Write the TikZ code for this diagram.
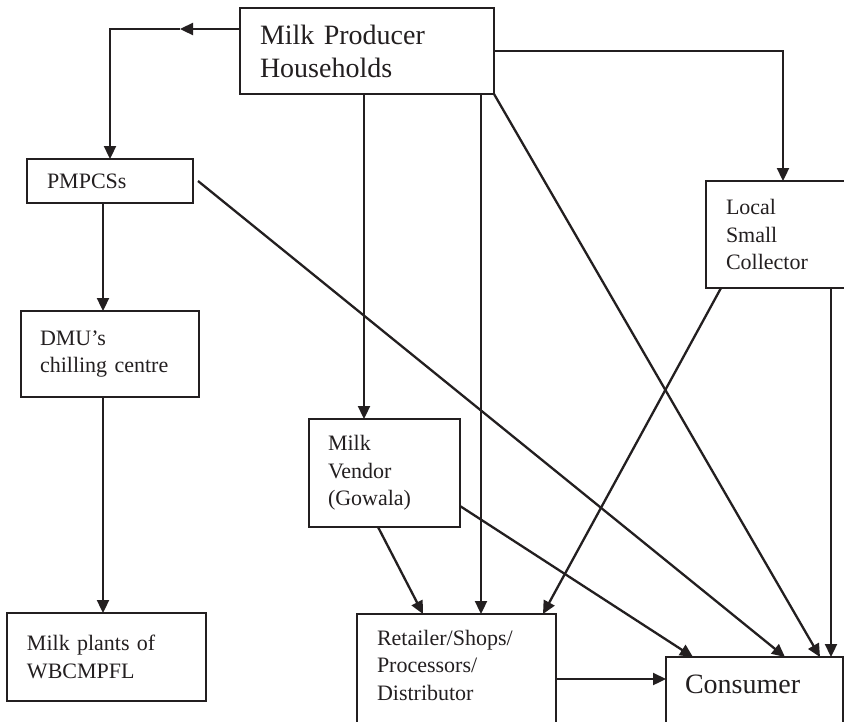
\documentclass[tikz,border=0pt]{standalone}
\usepackage{fontspec}
\setmainfont{Liberation Serif}
\usetikzlibrary{arrows.meta,calc}
\definecolor{ink}{HTML}{231F20}
\begin{document}
\begin{tikzpicture}[x=1pt,y=-1pt,
  box/.style={draw=ink, line width=2pt, anchor=north west, inner xsep=0pt, inner ysep=0pt, outer sep=0pt, align=left, text=ink},
  txt/.style={text=ink, inner sep=0pt, outer sep=0pt, align=left},
  small/.style={font=\fontsize{22}{27.5}\selectfont},
  big/.style={font=\fontsize{28}{33}\selectfont},
  conn/.style={draw=ink, line width=2.3pt},
  arr/.style={conn, -{Triangle[length=13pt,width=12pt]}}]
\clip (0,0) rectangle (844,721);
\fill[white] (0,0) rectangle (844,721);

% boxes
\node[box, big, text width=214pt, inner xsep=20pt, minimum height=86pt] (mph) at (240,8) {Milk Producer\\Households};
\node[box, small, text width=126pt, inner xsep=20pt, minimum height=44pt] (pm) at (27,159) {PMPCSs};
\node[box, small, text width=140pt, inner xsep=19pt, minimum height=86pt] (dmu) at (21,311) {DMU’s\\chilling centre};
\node[box, small, text width=159pt, inner xsep=20pt, minimum height=88pt] (plants) at (7,613) {Milk plants of\\WBCMPFL};
\node[box, small, text width=113pt, inner xsep=19pt, minimum height=108pt] (vendor) at (309,419) {Milk\\Vendor\\(Gowala)};
\node[box, small, text width=110pt, inner xsep=20pt, minimum height=107pt] (local) at (706,181) {Local\\Small\\Collector};
\node[box, minimum width=199pt, minimum height=130pt] (ret) at (357,614) {};
\node[txt, small, anchor=north west] (rett) at (377,630) {Retailer/Shops/\\Processors/\\Distributor};
\node[box, minimum width=177pt, minimum height=100pt] (cons) at (666,657) {};
\node[txt, big, anchor=base west] (const) at (685,693) {Consumer};

% helper coordinates
\coordinate (c1) at (110,29);
\coordinate (m1) at (180,29);
\coordinate (c2) at (783,51);
\coordinate (x3) at (364,0);
\coordinate (x4) at (481,0);
\coordinate (x7) at (103,0);
\coordinate (x12) at (831,0);
\coordinate (y13) at (0,679);
\coordinate (e1) at (693,657);
\coordinate (e2) at (785,657);
\coordinate (e3) at (820,657);
\coordinate (s6) at (198,181);
\coordinate (s9) at (378,527);
\coordinate (t9) at (423,614);
\coordinate (s10) at (460,506);
\coordinate (s11) at (721,288);
\coordinate (t11) at (543,614);

% connectors
\draw[arr] (mph.west |- c1) -- (m1);
\draw[arr] (m1) -- (c1) -- (pm.north);
\draw[arr] (mph.east |- c2) -- (c2) -- (c2 |- local.north);
\draw[arr] (x3 |- mph.south) -- (x3 |- vendor.north);
\draw[arr] (x4 |- mph.south) -- (x4 |- ret.north);
\draw[arr] (mph.south east) -- (e3);
\draw[arr] (s6) -- (e2);
\draw[arr] (x7 |- pm.south) -- (x7 |- dmu.north);
\draw[arr] (x7 |- dmu.south) -- (x7 |- plants.north);
\draw[arr] (s9) -- (t9);
\draw[arr] (s10) -- (e1);
\draw[arr] (s11) -- (t11);
\draw[arr] (x12 |- local.south) -- (x12 |- cons.north);
\draw[arr] (ret.east |- y13) -- (cons.west |- y13);
\end{tikzpicture}
\end{document}
